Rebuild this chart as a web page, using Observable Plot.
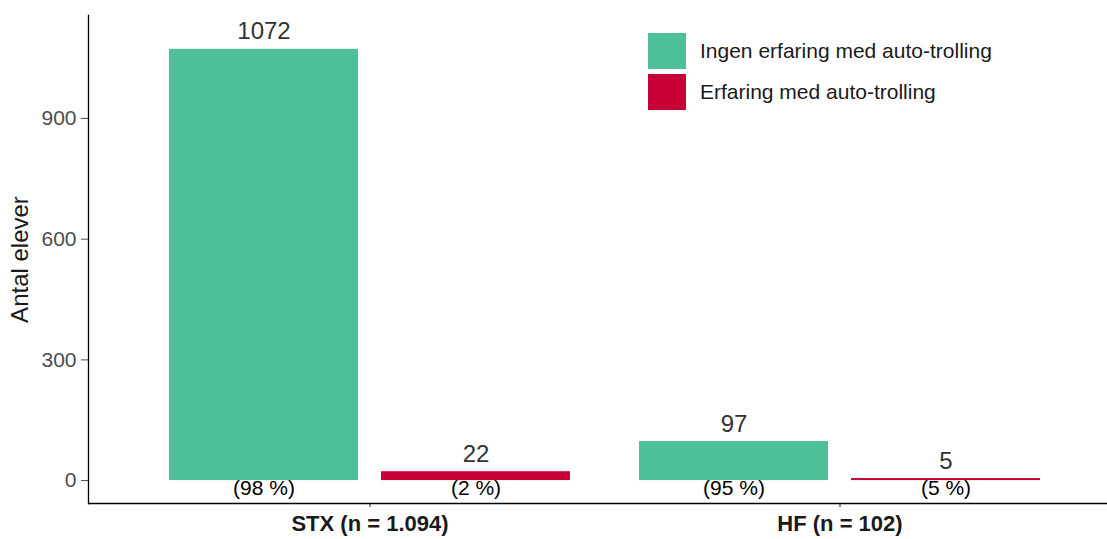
<!DOCTYPE html>
<html>
<head>
<meta charset="utf-8">
<script src="https://cdn.jsdelivr.net/npm/d3@7"></script>
<script src="https://cdn.jsdelivr.net/npm/@observablehq/plot@0.6"></script>
<style>
  body { margin: 0; background: #fff; font-family: "Liberation Sans", Arial, sans-serif; }
  #wrap { position: relative; width: 1107px; height: 539px; }
  .legend { position: absolute; left: 648px; top: 30px; font-size: 21px; color: #1a1a1a; }
  .legend .row { display: flex; align-items: center; height: 41px; }
  .legend .sw { width: 38px; height: 36px; margin-right: 14px; }
</style>
</head>
<body>
<div id="wrap"></div>
<script>
const groups = ["STX (n = 1.094)", "HF (n = 102)"];
const series = ["Ingen erfaring med auto-trolling", "Erfaring med auto-trolling"];
const colors = ["#4DBF9B", "#C90035"];
const stxValues = [1072, 22];
const hfValues = [97, 5];
const stxPct = ["(98 %)", "(2 %)"];
const hfPct = ["(95 %)", "(5 %)"];
const yTicks = [0, 300, 600, 900];
const yLabel = "Antal elever";

const data = [];
series.forEach((s, i) => {
  data.push({group: groups[0], series: s, value: stxValues[i], pct: stxPct[i]});
  data.push({group: groups[1], series: s, value: hfValues[i], pct: hfPct[i]});
});
const first = data.filter(d => d.series === series[0]);
const second = data.filter(d => d.series === series[1]);

// bar layout within a group band (402px): two bars of 190px with a 22px gap
const inset = 212, shift = 106;

const plot = Plot.plot({
  width: 1107,
  height: 539,
  marginTop: 15,
  marginBottom: 36,
  marginLeft: 88,
  marginRight: 0,
  style: {fontFamily: "Liberation Sans, Arial, sans-serif", background: "#fff", overflow: "visible"},
  x: {domain: groups, paddingInner: 0.1465, paddingOuter: 0.155, align: 0.548, label: null, axis: null},
  y: {domain: [-57, 1156], axis: null},
  color: {domain: series, range: colors},
  marks: [
    Plot.barY(first, {x: "group", y1: 0, y2: "value", fill: "series", insetRight: inset}),
    Plot.barY(second, {x: "group", y1: 0, y2: "value", fill: "series", insetLeft: inset}),
    Plot.text(first, {x: "group", y: "value", text: d => String(d.value), lineAnchor: "bottom", dx: -shift, dy: -10, fontSize: 24, fill: "#333"}),
    Plot.text(second, {x: "group", y: "value", text: d => String(d.value), lineAnchor: "bottom", dx: shift, dy: -10, fontSize: 24, fill: "#333"}),
    Plot.text(first, {x: "group", y: 0, text: "pct", lineAnchor: "top", dx: -shift, dy: 0, fontSize: 21, fill: "#000"}),
    Plot.text(second, {x: "group", y: 0, text: "pct", lineAnchor: "top", dx: shift, dy: 0, fontSize: 21, fill: "#000"}),
    Plot.axisY({ticks: yTicks, tickSize: 7, tickPadding: 5, fontSize: 21, color: "#4d4d4d", label: null}),
    Plot.axisX({anchor: "bottom", tickSize: 4, tickPadding: 8, fontSize: 22, fontWeight: "bold", color: "#1a1a1a", label: null}),
    Plot.frame({anchor: "left", stroke: "#000", strokeWidth: 1.3}),
    Plot.ruleY([-57], {stroke: "#000", strokeWidth: 1.3}),
    Plot.text([yLabel], {frameAnchor: "left", textAnchor: "middle", rotate: -90, dx: -68, fontSize: 24, fill: "#1a1a1a"})
  ]
});

document.getElementById("wrap").appendChild(plot);

// legend
const leg = d3.select("#wrap").append("div").attr("class", "legend");
series.forEach((s, i) => {
  const row = leg.append("div").attr("class", "row");
  row.append("div").attr("class", "sw").style("background", colors[i]);
  row.append("span").text(s);
});
</script>
</body>
</html>
